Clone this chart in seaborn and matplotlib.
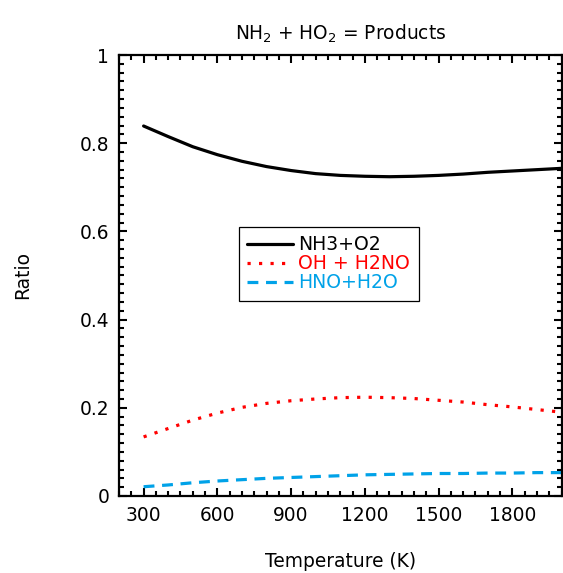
import matplotlib
matplotlib.use("Agg")
import matplotlib.pyplot as plt
from matplotlib.ticker import MultipleLocator, FixedLocator
import seaborn as sns
import pandas as pd

# Temperature grid (K) and branching ratios for NH2 + HO2
temperature = [300, 400, 500, 600, 700, 800, 900, 1000, 1100, 1200,
               1300, 1400, 1500, 1600, 1700, 1800, 1900, 2000]
nh3_o2 = [0.839, 0.815, 0.792, 0.774, 0.759, 0.747, 0.738, 0.731, 0.727,
          0.725, 0.724, 0.725, 0.727, 0.730, 0.734, 0.737, 0.740, 0.743]
oh_h2no = [0.134, 0.153, 0.172, 0.188, 0.201, 0.210, 0.216, 0.220, 0.223,
           0.224, 0.223, 0.221, 0.217, 0.213, 0.207, 0.202, 0.196, 0.190]
hno_h2o = [0.021, 0.025, 0.030, 0.034, 0.037, 0.040, 0.042, 0.044, 0.046,
           0.048, 0.049, 0.050, 0.051, 0.051, 0.052, 0.052, 0.053, 0.053]

series_labels = ["NH3+O2", "OH + H2NO", "HNO+H2O"]
series_colors = ["#000000", "#ff0000", "#00a2e8"]
x_ticks = [300, 600, 900, 1200, 1500, 1800]
y_ticks = [0, 0.2, 0.4, 0.6, 0.8, 1]
y_tick_labels = ["0", "0.2", "0.4", "0.6", "0.8", "1"]

sns.set_style("ticks")
plt.rcParams["font.family"] = ["DejaVu Sans"]
plt.rcParams["mathtext.default"] = "regular"
plt.rcParams["text.color"] = "black"
plt.rcParams["axes.labelcolor"] = "black"

df = pd.DataFrame({"T": temperature, "a": nh3_o2, "b": oh_h2no, "c": hno_h2o})

fig = plt.figure(figsize=(5.63, 5.73), dpi=100)
ax = fig.add_axes([0.2114, 0.1344, 0.786, 0.7696])

styles = ["-", (0, (1.0, 2.6)), (0, (3.4, 2.4))]
for col, lab, colr, ls in zip(["a", "b", "c"], series_labels, series_colors, styles):
    sns.lineplot(data=df, x="T", y=col, ax=ax, color=colr, linestyle=ls,
                 linewidth=2.3, label=lab)

ax.set_xlim(200, 2000)
ax.set_ylim(0, 1)
ax.xaxis.set_major_locator(FixedLocator(x_ticks))
ax.xaxis.set_minor_locator(MultipleLocator(50))
ax.yaxis.set_major_locator(FixedLocator(y_ticks))
ax.set_yticklabels(y_tick_labels)
ax.yaxis.set_minor_locator(MultipleLocator(0.02))

fs = 13.4
ax.tick_params(which="both", direction="in", top=True, right=True, width=1.5,
               labelsize=fs, color="black", labelcolor="black")
ax.tick_params(which="major", length=6, pad=7)
ax.tick_params(which="minor", length=3.5)
for sp in ax.spines.values():
    sp.set_visible(True)
    sp.set_linewidth(1.6)
    sp.set_color("black")

ax.set_xlabel("Temperature (K)", fontsize=fs, labelpad=20, color="black")
ax.set_ylabel("Ratio", fontsize=fs, labelpad=34, color="black")
ax.set_title(r"NH$_2$ + HO$_2$ = Products", fontsize=fs, pad=11, color="black")

leg = ax.legend(loc="upper left", bbox_to_anchor=(0.271, 0.61), borderaxespad=0,
                fontsize=13.6, frameon=True, fancybox=False, framealpha=1,
                edgecolor="black", handlelength=2.4, handletextpad=0.3,
                labelspacing=0.0, borderpad=0.45)
leg.get_frame().set_linewidth(0.9)
for txt, colr in zip(leg.get_texts(), series_colors):
    txt.set_color(colr)

fig.savefig("out.png", dpi=100)
